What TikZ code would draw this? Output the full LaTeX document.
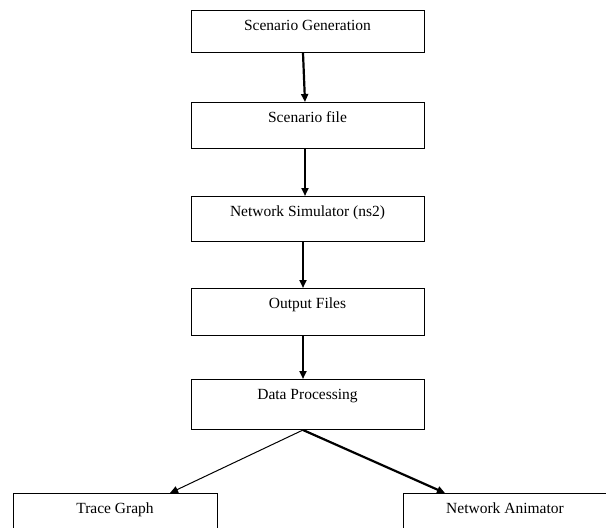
\documentclass[tikz,border=0pt]{standalone}
\usepackage{fontspec}
\setmainfont{Liberation Serif}
\usetikzlibrary{arrows.meta}
\tikzset{
    stepbox/.style={rectangle, draw, line width=1pt, minimum width=233pt, inner xsep=0pt, inner ysep=0pt, text height=19.5pt, anchor=north, font=\fontsize{15.5}{18}\selectfont},
    flow/.style={-{Triangle[length=8pt, width=7pt]}, line width=2.2pt}
}

\begin{document}
\begin{tikzpicture}[x=1pt, y=-1pt]
  \useasboundingbox (0,0) rectangle (606,528);
  \clip (0,0) rectangle (606,528);
  \node (gen) [stepbox, text depth=22.5pt] at (307.5,10) {Scenario Generation};
  \node (scn) [stepbox, text depth=26.5pt] at (307.5,102) {Scenario file};
  \node (sim) [stepbox, text depth=25.5pt] at (307.5,196) {Network Simulator (ns2)};
  \node (out) [stepbox, text depth=27.5pt] at (307.5,288) {Output Files};
  \node (dat) [stepbox, text depth=30.5pt] at (307.5,379) {Data Processing};
  \node (trc) [stepbox, minimum width=204pt, text depth=25pt] at (115,493) {Trace Graph};
  \node (nam) [stepbox, minimum width=204pt, text depth=25pt] at (505,493) {Network Animator};

  \draw [flow] ([xshift=-4.5pt]gen.south) -- ([xshift=-2.5pt]scn.north);
  \draw [flow] ([xshift=-2.5pt]scn.south) -- ([xshift=-2.5pt]sim.north);
  \draw [flow] ([xshift=-4.5pt]sim.south) -- ([xshift=-4.5pt]out.north);
  \draw [flow] ([xshift=-4.5pt]out.south) -- ([xshift=-4.5pt]dat.north);
  \draw [flow, line width=1pt] ([xshift=-4.5pt]dat.south) -- ([xshift=55pt]trc.north);
  \draw [flow] ([xshift=-4.5pt]dat.south) -- ([xshift=-60pt]nam.north);
\end{tikzpicture}
\end{document}
